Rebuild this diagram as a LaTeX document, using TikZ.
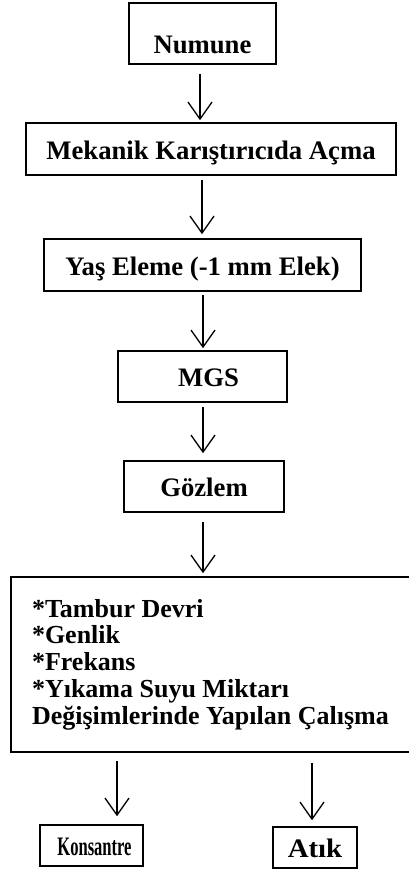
\documentclass[tikz,border=0pt]{standalone}
\usepackage{fontspec}
\usepackage{graphicx}
\setmainfont{Liberation Serif}
\usetikzlibrary{arrows.meta,calc}
\begin{document}
\begin{tikzpicture}[x=1pt,y=-1pt,
  box/.style={draw, line width=1.6pt, rectangle, inner sep=0pt,
    font=\fontsize{26.7}{26.7}\selectfont\bfseries,
    text height=20.7pt, text depth=0pt},
  arr/.style={line width=1.3pt, -{Straight Barb[length=17pt,width=24pt,line width=1.3pt]}}]
\useasboundingbox (0,0) rectangle (409,884);
\node[box, minimum width=147pt, minimum height=61pt, text height=39.7pt] (n1) at (202.5,33.5) {Numune};
\node[box, minimum width=370pt, minimum height=52pt] (n2) at (211,149) {Mekanik Karıştırıcıda Açma};
\node[box, minimum width=317pt, minimum height=52pt] (n3) at (202.5,265) {Yaş Eleme (-1 mm Elek)};
\node[box, minimum width=169pt, minimum height=51pt] (n4) at (202.5,376.5) {\hspace{12pt}MGS};
\node[box, minimum width=160pt, minimum height=51pt] (n5) at (204,486.5) {Gözlem};
\node[box, minimum width=409pt, minimum height=175pt, text height=, text depth=,
  font=\fontsize{26}{26.7}\selectfont\bfseries,
  align=flush left, text width=367pt] (n6) at (215.5,664.5)
  {*Tambur Devri\\{}*Genlik\\{}*Frekans\\{}*Yıkama Suyu Miktarı\\{}Değişimlerinde Yapılan Çalışma\par\vspace{5pt}};
\node[box, minimum width=103pt, minimum height=41pt] (n7) at (91.5,845.5) {\hspace{6pt}\scalebox{0.62}[1]{Konsantre}};
\node[box, minimum width=84pt, minimum height=41pt] (n8) at (315,847.5) {\scalebox{1.08}[1]{Atık}};
\draw[arr] ($(n1.south)+(-2.5,9)$) -- ($(n1.south |- n2.north)+(-2.5,-2)$);
\draw[arr] ($(n2.south)+(-9,4)$) -- ($(n2.south |- n3.north)+(-9,-4)$);
\draw[arr] ($(n3.south)+(0.5,3)$) -- ($(n3.south |- n4.north)+(0.5,-2)$);
\draw[arr] ($(n4.south)+(0.5,4)$) -- ($(n4.south |- n5.north)+(0.5,-7)$);
\draw[arr] ($(n5.south)+(-1,9)$) -- ($(n5.south |- n6.north)+(-1,-3)$);
\draw[arr] ($(n7.north |- n6.south)+(25.5,8)$) -- ($(n7.north)+(25.5,-8)$);
\draw[arr] ($(n8.north |- n6.south)+(-3,10)$) -- ($(n8.north)+(-3,-6)$);
\end{tikzpicture}
\end{document}
